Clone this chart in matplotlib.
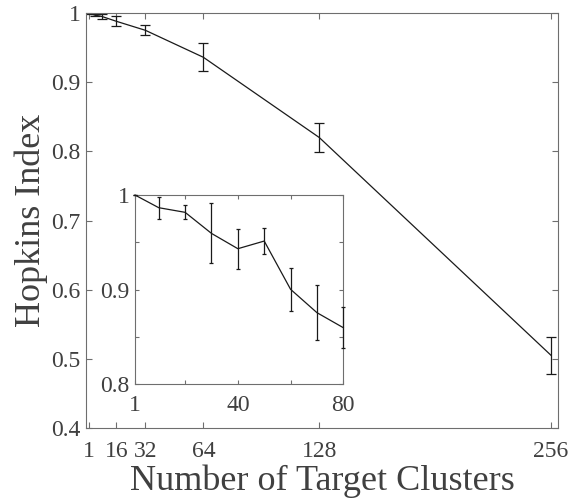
import numpy as np
import matplotlib.pyplot as plt

plt.rcParams['font.family'] = ['Liberation Serif', 'DejaVu Serif']
plt.rcParams['mathtext.fontset'] = 'stix'

txt = '#404040'
spine = '#6e6e6e'

# hopkins index vs number of target clusters
k_main = [1, 2, 4, 8, 16, 32, 64, 128, 256]
h_main = [1.0, 0.999, 0.997, 0.995, 0.988, 0.975, 0.936, 0.820, 0.505]
e_main = [0.0, 0.001, 0.002, 0.004, 0.007, 0.007, 0.020, 0.021, 0.027]
xt_main = [1, 16, 32, 64, 128, 256]
yt_main = [0.4, 0.5, 0.6, 0.7, 0.8, 0.9, 1]
yl_main = ['0.4', '0.5', '0.6', '0.7', '0.8', '0.9', '1']

# zoomed range 1..80
k_in = [1, 10, 20, 30, 40, 50, 60, 70, 80]
h_in = [1.0, 0.9866, 0.9817, 0.9594, 0.9432, 0.9513, 0.9002, 0.8755, 0.8596]
e_in = [0.0, 0.0117, 0.0073, 0.0318, 0.0212, 0.0138, 0.0227, 0.0293, 0.0216]
xt_in = [1, 20, 40, 60, 80]
xl_in = ['1', '', '40', '', '80']
yt_in = [0.8, 0.85, 0.9, 0.95, 1]
yl_in = ['0.8', '', '0.9', '', '1']


def style(ax):
    for s in ax.spines.values():
        s.set_color(spine)
        s.set_linewidth(0.8)
    ax.tick_params(direction='in', top=True, right=True, colors=spine,
                   labelcolor=txt, length=4, width=0.8)


fig = plt.figure(figsize=(5.75, 5.01), dpi=100)
ax = fig.add_axes([0.1496, 0.1457, 0.8214, 0.8283])
ax.errorbar(k_main, h_main, yerr=e_main, color='#1a1a1a', lw=0.9,
            elinewidth=0.9, capsize=3.5, capthick=0.9)
ax.set_xlim(-0.8, 260)
ax.set_ylim(0.4, 1)
ax.set_xticks(xt_main)
ax.set_yticks(yt_main)
ax.set_yticklabels(yl_main)
style(ax)
ax.tick_params(labelsize=17)
ax.tick_params(axis='x', pad=9)
ax.tick_params(axis='y', pad=4)
ax.set_xlabel('Number of Target Clusters', fontsize=26, color=txt, labelpad=2)
ax.set_ylabel('Hopkins Index', fontsize=26, color=txt, labelpad=2)

ins = fig.add_axes([0.2348, 0.2335, 0.3623, 0.3772])
eb = ins.errorbar(k_in, h_in, yerr=e_in, color='#1a1a1a', lw=0.9,
                  elinewidth=0.9, capsize=1.6, capthick=0.9, zorder=3)
# let the last bar at x=80 show on top of the inset edge
for art in eb.get_children():
    art.set_clip_on(False)
ins.set_xlim(1, 80)
ins.set_ylim(0.8, 1)
ins.set_xticks(xt_in)
ins.set_xticklabels(xl_in)
ins.set_yticks(yt_in)
ins.set_yticklabels(yl_in)
style(ins)
ins.tick_params(labelsize=17, length=3)
ins.tick_params(axis='x', pad=8)
ins.tick_params(axis='y', pad=4)

fig.savefig('out.png', dpi=100)
